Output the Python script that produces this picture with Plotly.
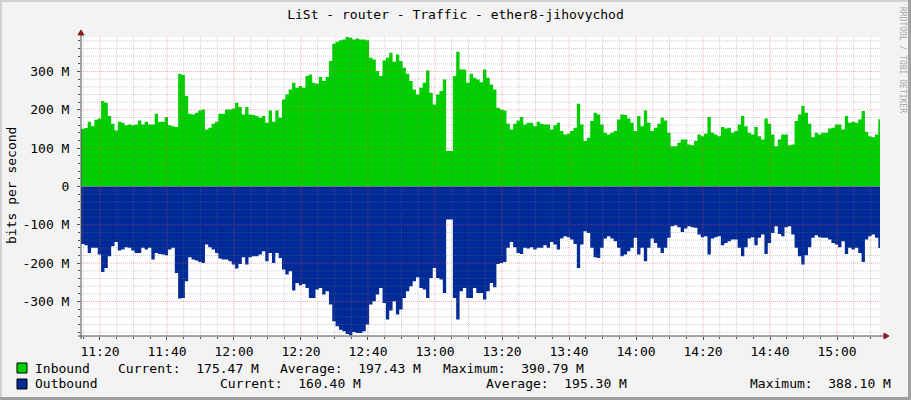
import plotly.graph_objects as go
import pandas as pd

# ---------------- data ----------------
START = "2024-01-01 11:14:20"   # first sample (1-minute samples)
X_START = "2024-01-01 11:14:20"
X_END = "2024-01-01 15:12:50"

inbound_m = [
    150.6, 152.3, 168.8, 157.5, 174.1, 177.5, 222.8, 218.4, 183.6, 163.6,
    146.2, 168.8, 166.2, 160.1, 161.9, 160.1, 161.9, 172.3, 161.9, 168.8,
    161.9, 161.9, 189.7, 168.8, 168.8, 181.0, 160.1, 157.5, 154.9, 294.2,
    290.7, 235.9, 189.7, 188.0, 192.3, 198.4, 201.0, 148.8, 153.2, 163.6,
    168.8, 189.7, 189.7, 201.0, 201.0, 203.7, 218.4, 207.1, 188.0, 207.1,
    188.0, 186.2, 183.6, 179.3, 183.6, 166.2, 198.4, 168.8, 198.4, 179.3,
    227.1, 240.2, 253.3, 270.7, 257.6, 262.0, 257.6, 288.1, 292.4, 270.7,
    268.1, 285.5, 275.0, 285.5, 327.2, 372.5, 377.7, 381.2, 383.8, 390.8,
    388.2, 383.8, 386.4, 383.8, 383.8, 381.2, 335.9, 331.6, 301.1, 288.1,
    329.0, 335.9, 349.0, 325.5, 344.6, 327.2, 309.8, 294.2, 275.0, 253.3,
    240.2, 257.6, 270.7, 302.9, 244.6, 214.1, 240.2, 248.9, 279.4, 92.3,
    92.3, 288.1, 351.6, 305.5, 305.5, 270.7, 294.2, 283.7, 279.4, 272.0,
    305.5, 283.7, 266.3, 253.3, 205.4, 201.0, 198.4, 163.6, 148.8, 163.6,
    172.3, 181.0, 161.9, 166.2, 166.2, 157.5, 168.8, 163.6, 161.9, 161.9,
    148.8, 160.1, 166.2, 144.5, 135.8, 137.5, 144.5, 153.2, 215.8, 161.9,
    118.4, 127.1, 170.6, 192.3, 188.0, 161.9, 140.1, 135.8, 140.1, 144.5,
    174.9, 188.0, 186.2, 177.5, 166.2, 144.5, 183.6, 157.5, 198.4, 166.2,
    144.5, 153.2, 163.6, 179.3, 172.3, 140.1, 105.3, 105.3, 114.0, 122.7,
    122.7, 109.7, 107.9, 118.4, 135.8, 131.4, 137.5, 181.0, 140.1, 135.8,
    131.4, 154.9, 151.4, 153.2, 140.1, 144.5, 161.9, 183.6, 157.5, 140.1,
    135.8, 154.9, 131.4, 122.7, 177.5, 163.6, 135.8, 105.3, 122.7, 135.8,
    135.8, 107.9, 109.7, 170.6, 188.0, 209.7, 192.3, 163.6, 128.8, 140.1,
    135.8, 140.1, 140.1, 151.4, 153.2, 161.9, 161.9, 148.8, 183.6, 166.2,
    168.8, 166.2, 174.9, 196.7, 142.7, 131.4, 128.8, 135.8, 175.5,
]

outbound_m = [
    149.7, 153.2, 173.2, 160.1, 160.1, 177.5, 222.8, 212.4, 181.9, 155.8,
    144.5, 167.1, 164.5, 158.4, 160.1, 167.1, 173.2, 173.2, 160.1, 164.5,
    160.1, 190.6, 173.2, 175.8, 177.5, 179.3, 164.5, 160.1, 225.4, 292.4,
    290.7, 247.2, 184.5, 190.6, 193.2, 196.7, 199.3, 151.4, 158.4, 164.5,
    173.2, 188.0, 190.6, 190.6, 194.9, 203.7, 214.1, 201.9, 184.5, 203.7,
    184.5, 181.9, 181.9, 177.5, 168.8, 194.9, 173.2, 199.3, 173.2, 186.2,
    216.7, 229.8, 221.1, 271.5, 251.5, 257.6, 254.1, 264.6, 290.7, 290.7,
    268.9, 264.6, 282.0, 273.3, 308.1, 351.6, 364.7, 373.4, 377.7, 384.7,
    388.1, 379.5, 382.1, 382.1, 377.7, 360.3, 308.1, 299.4, 282.0, 264.6,
    303.7, 347.2, 323.7, 299.4, 334.2, 321.1, 290.7, 273.3, 260.2, 247.2,
    236.7, 264.6, 268.9, 290.7, 238.5, 212.4, 238.5, 242.8, 277.6, 86.2,
    86.2, 290.7, 347.2, 273.3, 264.6, 290.7, 290.7, 264.6, 277.6, 277.6,
    295.0, 273.3, 251.5, 262.8, 201.9, 199.3, 196.7, 160.1, 144.5, 158.4,
    173.2, 175.8, 160.1, 161.9, 158.4, 164.5, 160.1, 160.1, 153.2, 160.1,
    144.5, 151.4, 164.5, 135.8, 129.7, 132.3, 138.4, 149.7, 212.4, 151.4,
    116.6, 121.0, 160.1, 184.5, 186.2, 160.1, 135.8, 129.7, 135.8, 142.7,
    160.1, 181.9, 177.5, 168.8, 160.1, 134.0, 177.5, 160.1, 194.9, 160.1,
    135.8, 147.1, 160.1, 173.2, 160.1, 134.0, 103.6, 101.0, 106.2, 118.4,
    109.7, 103.6, 106.2, 107.9, 125.3, 132.3, 129.7, 177.5, 135.8, 132.3,
    129.7, 153.2, 147.1, 142.7, 138.4, 138.4, 160.1, 181.9, 158.4, 135.8,
    132.3, 153.2, 134.0, 125.3, 175.8, 147.1, 121.0, 103.6, 123.6, 129.7,
    106.2, 103.6, 125.3, 160.1, 181.9, 203.7, 179.3, 158.4, 134.0, 127.1,
    132.3, 134.0, 134.0, 138.4, 147.1, 151.4, 158.4, 142.7, 175.8, 160.1,
    164.5, 160.1, 173.2, 196.7, 138.4, 129.7, 125.3, 134.0, 160.4,
]

y_tick_vals = [-300, -200, -100, 0, 100, 200, 300]
y_tick_text = ["-300 M", "-200 M", "-100 M", "0", "100 M", "200 M", "300 M"]

legend_rows = [
    ("Inbound", "#00CF00", ["Current:  175.47 M", "Average:  197.43 M", "Maximum:  390.79 M"]),
    ("Outbound", "#002A97", ["Current:  160.40 M", "Average:  195.30 M", "Maximum:  388.10 M"]),
]

TITLE = "LiSt - router - Traffic - ether8-jihovychod"

# ---------------- geometry helpers ----------------
W, H = 911, 400
ML, MR, MT, MB = 81, 31, 37, 64
PW, PH = W - ML - MR, H - MT - MB
FONT = "DejaVu Sans Mono"


def px(x):
    return (x - ML) / PW


def py(y):
    return (H - MB - y) / PH


# sample times (one extra to close the final step)
times = pd.date_range(START, periods=len(inbound_m) + 1, freq="1min")
in_y = inbound_m + [inbound_m[-1]]
out_y = [-v for v in outbound_m] + [-outbound_m[-1]]

fig = go.Figure()
fig.add_trace(go.Scatter(x=times, y=in_y, mode="lines", line=dict(width=0, shape="hv"),
                         fill="tozeroy", fillcolor="#00CF00", hoverinfo="skip"))
fig.add_trace(go.Scatter(x=times, y=out_y, mode="lines", line=dict(width=0, shape="hv"),
                         fill="tozeroy", fillcolor="#002A97", hoverinfo="skip"))

shapes = []
MINOR = "rgba(120,120,120,0.35)"
MAJOR = "rgba(255,70,70,0.45)"
# horizontal grid
for v in range(-380, 381, 20):
    shapes.append(dict(type="line", xref="paper", yref="y", x0=0, x1=1, y0=v, y1=v,
                       line=dict(color=MAJOR if v % 100 == 0 else MINOR, width=1, dash="1px,1px"),
                       layer="above"))
# vertical grid
for t in pd.date_range("2024-01-01 11:15", "2024-01-01 15:10", freq="5min"):
    major = (t.minute % 20 == 0)
    shapes.append(dict(type="line", xref="x", yref="paper", x0=t, x1=t, y0=0, y1=1,
                       line=dict(color=MAJOR if major else MINOR, width=1, dash="1px,1px"),
                       layer="above"))

AX = "#505050"
ARROW = "#8B1A1A"
# axis lines
shapes.append(dict(type="line", xref="paper", yref="paper", x0=px(78), x1=px(884), y0=0, y1=0,
                   line=dict(color=AX, width=1), layer="above"))
shapes.append(dict(type="line", xref="paper", yref="paper", x0=0, x1=0, y0=py(339), y1=py(34),
                   line=dict(color=AX, width=1), layer="above"))
# arrows
shapes.append(dict(type="path", xref="paper", yref="paper",
                   path=f"M {px(884)} {py(333)} L {px(889)} {py(336)} L {px(884)} {py(339)} Z",
                   fillcolor=ARROW, line=dict(color=ARROW, width=1), layer="above"))
shapes.append(dict(type="path", xref="paper", yref="paper",
                   path=f"M {px(78)} {py(35)} L {px(81)} {py(30)} L {px(84)} {py(35)} Z",
                   fillcolor=ARROW, line=dict(color=ARROW, width=1), layer="above"))

# frame of the canvas
shapes.append(dict(type="rect", xref="paper", yref="paper", x0=px(0), x1=px(W), y0=py(0), y1=py(2),
                   fillcolor="#D2D2D2", line=dict(width=0), layer="below"))
shapes.append(dict(type="rect", xref="paper", yref="paper", x0=px(0), x1=px(2), y0=py(0), y1=py(H),
                   fillcolor="#D2D2D2", line=dict(width=0), layer="below"))
shapes.append(dict(type="rect", xref="paper", yref="paper", x0=px(W - 3), x1=px(W), y0=py(0), y1=py(H),
                   fillcolor="#A0A0A0", line=dict(width=0), layer="below"))
shapes.append(dict(type="rect", xref="paper", yref="paper", x0=px(0), x1=px(W), y0=py(H - 3), y1=py(H),
                   fillcolor="#A0A0A0", line=dict(width=0), layer="below"))

annotations = []
# legend
row_y = [368, 384]
seg_x = [[116.7, 279, 441.7], [219.3, 485, 749.3]]
for r, (name, color, segs) in enumerate(legend_rows):
    yc = row_y[r]
    shapes.append(dict(type="rect", xref="paper", yref="paper", x0=px(17), x1=px(27),
                       y0=py(yc - 5), y1=py(yc + 5), fillcolor=color,
                       line=dict(color="#000000", width=1), layer="above"))
    annotations.append(dict(text=name, x=px(33), y=py(yc), xref="paper", yref="paper",
                            xanchor="left", yanchor="middle", showarrow=False,
                            font=dict(family=FONT, size=13, color="#000000")))
    for s, xs in zip(segs, seg_x[r]):
        annotations.append(dict(text=s.replace(" ", "&nbsp;"), x=px(xs - 1), y=py(yc),
                                xref="paper", yref="paper", xanchor="left", yanchor="middle",
                                showarrow=False, font=dict(family=FONT, size=13, color="#000000")))

# y-axis title
annotations.append(dict(text="bits per second", x=px(11), y=py(186), xref="paper", yref="paper",
                        textangle=-90, showarrow=False, xanchor="center", yanchor="middle",
                        font=dict(family=FONT, size=13, color="#000000")))
# credit
annotations.append(dict(text="RRDTOOL / TOBI OETIKER", x=px(902), y=py(60), xref="paper", yref="paper",
                        textangle=90, showarrow=False, xanchor="center", yanchor="middle",
                        font=dict(family=FONT, size=8, color="#A8A8A8")))

fig.update_layout(
    width=W, height=H, autosize=False,
    margin=dict(l=ML, r=MR, t=MT, b=MB, pad=0),
    paper_bgcolor="#F3F3F3", plot_bgcolor="#FFFFFF",
    showlegend=False,
    title=dict(text=TITLE, x=0.5, xref="container", xanchor="center",
               y=1 - 14 / H, yref="container", yanchor="middle",
               font=dict(family=FONT, size=13, color="#000000")),
    shapes=shapes, annotations=annotations,
    xaxis=dict(type="date", range=[X_START, X_END], showgrid=False, zeroline=False,
               tickformat="%H:%M", tick0="2024-01-01 11:20", dtick=20 * 60 * 1000,
               ticks="outside", ticklen=3, tickcolor=AX, showline=False,
               minor=dict(dtick=5 * 60 * 1000, tick0="2024-01-01 11:20", ticks="outside",
                          ticklen=2, tickcolor=AX, showgrid=False),
               tickfont=dict(family=FONT, size=13, color="#000000")),
    yaxis=dict(range=[-390, 390], showgrid=False, zeroline=False,
               tickvals=y_tick_vals, ticktext=y_tick_text,
               ticks="outside", ticklen=3, tickcolor=AX, showline=False,
               ticklabelstandoff=5,
               minor=dict(dtick=20, tick0=0, ticks="outside", ticklen=2, tickcolor=AX, showgrid=False),
               tickfont=dict(family=FONT, size=13, color="#000000")),
)

fig.write_html("out.html", config={"displayModeBar": False},
               post_script="document.body.style.margin='0';")
